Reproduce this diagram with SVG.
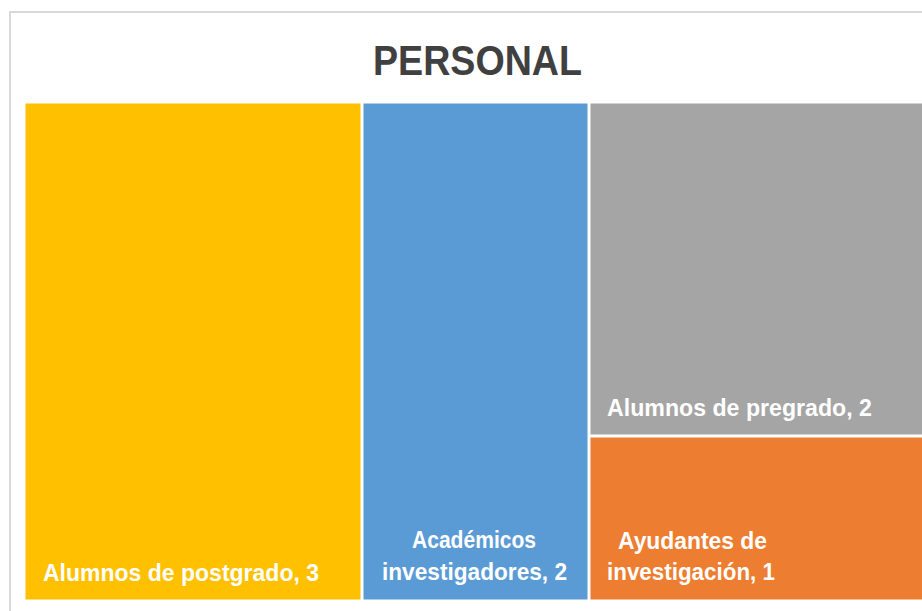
<svg xmlns="http://www.w3.org/2000/svg" width="922" height="611" viewBox="0 0 922 611">
<style>
.lbl{font-family:"Liberation Sans",Arial,sans-serif;font-weight:bold;font-size:23.5px;fill:#ffffff}
.title{font-family:"Liberation Sans",Arial,sans-serif;font-weight:bold;font-size:42px;fill:#404040}
.tile{stroke:#ffffff;stroke-width:1}
</style>
<rect x="0" y="0" width="922" height="611" fill="#ffffff"/>
<rect x="10" y="12" width="940" height="640" fill="#ffffff" stroke="#d9d9d9" stroke-width="2"/>
<text class="title" x="373" y="75" textLength="209" lengthAdjust="spacingAndGlyphs">PERSONAL</text>
<g id="postgrado">
<rect class="tile" x="25" y="103" width="336" height="497" fill="#FFC000"/>
<text class="lbl" x="43" y="581" textLength="276" lengthAdjust="spacingAndGlyphs">Alumnos de postgrado, 3</text>
</g>
<g id="academicos">
<rect class="tile" x="363" y="103" width="225" height="497" fill="#5B9BD5"/>
<text class="lbl" x="412" y="548" textLength="124" lengthAdjust="spacingAndGlyphs">Académicos</text>
<text class="lbl" x="382" y="580" textLength="185" lengthAdjust="spacingAndGlyphs">investigadores, 2</text>
</g>
<g id="pregrado">
<rect class="tile" x="590" y="103" width="340" height="332" fill="#A5A5A5"/>
<text class="lbl" x="607" y="416" textLength="265" lengthAdjust="spacingAndGlyphs">Alumnos de pregrado, 2</text>
</g>
<g id="ayudantes">
<rect class="tile" x="590" y="437" width="340" height="163" fill="#ED7D31"/>
<text class="lbl" x="618" y="549" textLength="149" lengthAdjust="spacingAndGlyphs">Ayudantes de</text>
<text class="lbl" x="607" y="580" textLength="168" lengthAdjust="spacingAndGlyphs">investigación, 1</text>
</g>
<g id="connectors"></g>
</svg>
